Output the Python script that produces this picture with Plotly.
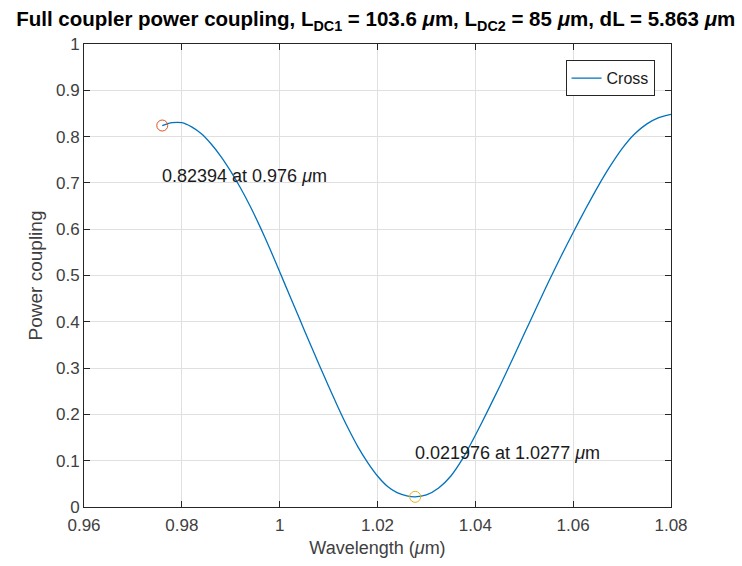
import plotly.graph_objects as go

# Data
wavelength = [0.976, 0.978, 0.980, 0.982, 0.984, 0.986, 0.988, 0.990, 0.992, 0.994,
              0.996, 0.998, 1.000, 1.002, 1.004, 1.006, 1.008, 1.010, 1.012, 1.014,
              1.016, 1.018, 1.020, 1.022, 1.024, 1.026, 1.0277, 1.030, 1.0325, 1.035,
              1.0375, 1.040, 1.0425, 1.045, 1.0475, 1.050, 1.0525, 1.055, 1.0575, 1.060,
              1.0625, 1.065, 1.0675, 1.070, 1.0725, 1.075, 1.0775, 1.080]
cross = [0.82394, 0.830, 0.830, 0.821, 0.806, 0.784, 0.757, 0.725, 0.689, 0.649,
         0.605, 0.558, 0.508, 0.458, 0.408, 0.358, 0.309, 0.261, 0.214, 0.170,
         0.130, 0.096, 0.067, 0.045, 0.031, 0.024, 0.021976, 0.026, 0.041, 0.067,
         0.106, 0.155, 0.207, 0.261, 0.317, 0.374, 0.431, 0.487, 0.541, 0.593,
         0.643, 0.691, 0.735, 0.774, 0.805, 0.827, 0.841, 0.848]

max_pt = (0.976, 0.82394)
min_pt = (1.0277, 0.021976)
xticks = [0.96, 0.98, 1.0, 1.02, 1.04, 1.06, 1.08]
xticktext = ["0.96", "0.98", "1", "1.02", "1.04", "1.06", "1.08"]
yticks = [0, 0.1, 0.2, 0.3, 0.4, 0.5, 0.6, 0.7, 0.8, 0.9, 1]
yticktext = ["0", "0.1", "0.2", "0.3", "0.4", "0.5", "0.6", "0.7", "0.8", "0.9", "1"]

FONT = "Liberation Sans, Arial, sans-serif"
TXT = "#262626"

fig = go.Figure()
fig.add_trace(go.Scatter(x=wavelength, y=cross, mode="lines", name="Cross",
                         line=dict(color="#0072BD", width=1.3, shape="spline", smoothing=0.6)))
fig.add_trace(go.Scatter(x=[max_pt[0]], y=[max_pt[1]], mode="markers", showlegend=False,
                         marker=dict(symbol="circle-open", size=11, color="#D95319", line=dict(width=1))))
fig.add_trace(go.Scatter(x=[min_pt[0]], y=[min_pt[1]], mode="markers", showlegend=False,
                         marker=dict(symbol="circle-open", size=11, color="#EDB120", line=dict(width=1))))

fig.add_annotation(x=max_pt[0], y=max_pt[1] - 0.109, xref="x", yref="y",
                   text="0.82394 at 0.976 <i>μ</i>m", showarrow=False, xshift=-2,
                   xanchor="left", yanchor="middle", font=dict(family=FONT, size=18, color="#1a1a1a"))
fig.add_annotation(x=min_pt[0], y=min_pt[1] + 0.094, xref="x", yref="y",
                   text="0.021976 at 1.0277 <i>μ</i>m", showarrow=False, xshift=-2,
                   xanchor="left", yanchor="middle", font=dict(family=FONT, size=18, color="#1a1a1a"))

axis_common = dict(showgrid=True, gridcolor="#e0e0e0", gridwidth=1, showline=True,
                   linecolor=TXT, linewidth=1, mirror="ticks", ticks="inside", ticklen=6,
                   tickcolor=TXT, zeroline=False, tickfont=dict(family=FONT, size=17, color="#404040"))

fig.update_layout(
    width=742, height=566,
    margin=dict(l=84, r=71, t=44, b=59),
    paper_bgcolor="white", plot_bgcolor="white",
    title=dict(text="<b>Full coupler power coupling, L<sub>DC1</sub> = 103.6 <i>μ</i>m, L<sub>DC2</sub> = 85 <i>μ</i>m, dL = 5.863 <i>μ</i>m</b>",
               x=0.497, xanchor="center", xref="paper", y=0.966, yref="container", yanchor="middle",
               font=dict(family=FONT, size=20.5, color="#000000")),
    xaxis=dict(range=[0.96, 1.08], tickvals=xticks, ticktext=xticktext, ticklabelstandoff=3,
               title=dict(text="Wavelength (<i>μ</i>m)", font=dict(family=FONT, size=18, color="#404040"), standoff=6),
               **axis_common),
    yaxis=dict(range=[0, 1], tickvals=yticks, ticktext=yticktext,
               title=dict(text="Power coupling", font=dict(family=FONT, size=19, color="#404040"), standoff=8),
               **axis_common),
    legend=dict(x=0.972, y=0.965, xanchor="right", yanchor="top",
                bordercolor=TXT, borderwidth=1, bgcolor="white",
                font=dict(family=FONT, size=16, color="#1a1a1a"),
                itemwidth=30, tracegroupgap=0),
    showlegend=True,
)

fig.write_html("out.html")
